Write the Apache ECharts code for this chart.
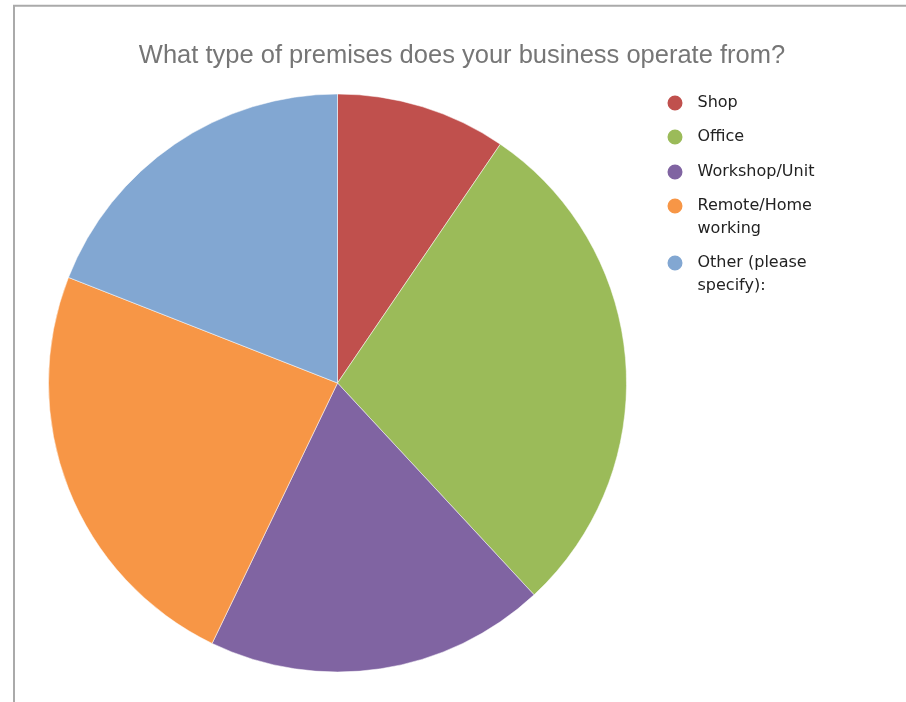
<!DOCTYPE html>
<html>
<head>
<meta charset="utf-8">
<title>Premises</title>
<script src="https://cdn.jsdelivr.net/npm/echarts@6/dist/echarts.min.js"></script>
<style>
  html, body { margin: 0; padding: 0; background: #fff; }
  #chart { width: 906px; height: 702px; }
</style>
</head>
<body>
<div id="chart"></div>
<script>
// survey answers
const categories = ['Shop', 'Office', 'Workshop/Unit', 'Remote/Home working', 'Other (please specify):'];
const counts = [4, 12, 8, 10, 8];
const legendLabels = ['Shop', 'Office', 'Workshop/Unit', 'Remote/Home\nworking', 'Other (please\nspecify):'];
const colors = ['#C0504D', '#9BBB59', '#8064A2', '#F79646', '#82A7D2'];

// legend icon centres (y) - one legend per entry so wrapped names start on the icon line
const legendIconY = [103, 137, 172, 206, 263];
const LINE_H = 23;
const ICON_W = 35; // wider box pushes the text right, circle stays 17px

const legends = categories.map((name, i) => {
  const wrapped = legendLabels[i].indexOf('\n') > -1;
  return {
    orient: 'vertical',
    left: 665.5,
    top: legendIconY[i] - (wrapped ? 34.5 : 11.5),
    padding: 0,
    icon: 'circle',
    itemWidth: ICON_W,
    itemHeight: 17,
    itemGap: 0,
    selectedMode: false,
    data: [name],
    // empty first line so the 2-line label starts level with the icon
    formatter: n => {
      const lbl = legendLabels[categories.indexOf(n)];
      return lbl.indexOf('\n') > -1 ? '\n' + lbl : lbl;
    },
    textStyle: {
      fontFamily: 'DejaVu Sans',
      fontSize: 16,
      color: '#222222',
      lineHeight: LINE_H
    }
  };
});

const chart = echarts.init(document.getElementById('chart'));
chart.setOption({
  animation: false,
  title: {
    text: 'What type of premises does your business operate from?',
    left: 462,
    top: 43,
    padding: 0,
    textAlign: 'center',
    textStyle: {
      fontFamily: 'Liberation Sans',
      fontSize: 25.5,
      fontWeight: 'normal',
      color: '#767676'
    }
  },
  graphic: [{
    type: 'rect',
    shape: { x: 14, y: 5.8, width: 1000, height: 1000 },
    style: { fill: 'none', stroke: '#aaaaaa', lineWidth: 2 },
    silent: true,
    z: -1
  }],
  legend: legends,
  series: [{
    name: 'Premises',
    type: 'pie',
    center: [337.5, 383],
    radius: 289,
    startAngle: 90,
    clockwise: true,
    label: { show: false },
    labelLine: { show: false },
    emphasis: { scale: false },
    itemStyle: { borderColor: '#ffffff', borderWidth: 0.5 },
    data: categories.map((name, i) => ({
      name: name,
      value: counts[i],
      itemStyle: { color: colors[i] }
    }))
  }]
});
</script>
</body>
</html>
